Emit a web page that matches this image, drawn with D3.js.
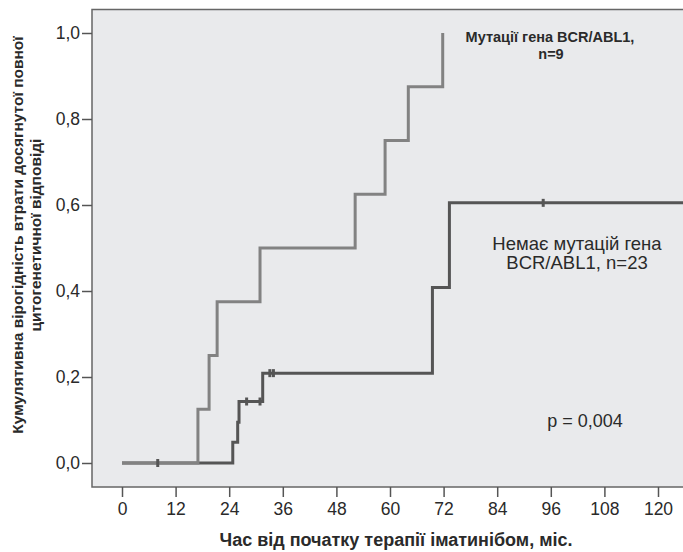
<!DOCTYPE html>
<html>
<head>
<meta charset="utf-8">
<script src="https://cdn.jsdelivr.net/npm/d3@7"></script>
<style>
  html, body { margin: 0; padding: 0; background: #fff; }
  svg { display: block; }
  text { font-family: "Liberation Sans", Arial, sans-serif; fill: #2a2a2a; }
</style>
</head>
<body>
<svg id="chart" width="683" height="552"></svg>
<script>
// ---- data ----
const xTicks = [0, 12, 24, 36, 48, 60, 72, 84, 96, 108, 120];
const yTicks = [0, 0.2, 0.4, 0.6, 0.8, 1.0];

// Mutation group (n=9): event times and cumulative probability after each step
const mutTimes  = [0, 17, 19.5, 21.3, 30.9, 52.2, 58.9, 64.1, 71.8];
const mutValues = [0, 0.125, 0.25, 0.375, 0.5, 0.625, 0.75, 0.875, 1.0];
const mutEnd = 71.8;

// No-mutation group (n=23)
const noTimes  = [0, 24.8, 25.9, 26.2, 31.5, 69.5, 73.3];
const noValues = [0, 0.048, 0.095, 0.143, 0.209, 0.408, 0.605];
const noEnd = 130;
const noCensorTimes  = [8, 27.9, 30.9, 33.1, 33.9, 94.3];
const noCensorValues = [0, 0.143, 0.143, 0.209, 0.209, 0.605];

// ---- layout ----
const svg = d3.select("#chart");
const x = d3.scaleLinear().domain([0, 120]).range([122, 658]);
const y = d3.scaleLinear().domain([0, 1]).range([463, 33]);
const plotLeft = 92, plotTop = 9.5, plotBottom = 487, plotRight = 700;

svg.append("rect")
  .attr("x", plotLeft).attr("y", plotTop)
  .attr("width", plotRight - plotLeft).attr("height", plotBottom - plotTop)
  .attr("fill", "#e9eaec").attr("stroke", "#666").attr("stroke-width", 1.5);

// axes
const xAxis = svg.append("g").attr("transform", `translate(0,${plotBottom})`)
  .call(d3.axisBottom(x).tickValues(xTicks).tickSize(10).tickPadding(6).tickFormat(d3.format("d")));
const yAxis = svg.append("g").attr("transform", `translate(${plotLeft},0)`)
  .call(d3.axisLeft(y).tickValues(yTicks).tickSize(10).tickPadding(2)
    .tickFormat(d => d3.format(".1f")(d).replace(".", ",")));
[xAxis, yAxis].forEach(g => {
  g.select(".domain").remove();
  g.selectAll(".tick line").attr("stroke", "#555").attr("stroke-width", 1.5);
  g.selectAll(".tick text").attr("font-size", 17.5).attr("fill", "#2a2a2a")
    .style("font-family", "'Liberation Sans', Arial, sans-serif");
});

// step line builder
function stepPoints(times, values, end) {
  const pts = [];
  for (let i = 0; i < times.length; i++) {
    if (i > 0) pts.push([times[i], values[i - 1]]);
    pts.push([times[i], values[i]]);
  }
  pts.push([end, values[values.length - 1]]);
  return pts;
}
const line = d3.line().x(d => x(d[0])).y(d => y(d[1]));

svg.append("path")
  .attr("d", line(stepPoints(noTimes, noValues, noEnd)))
  .attr("fill", "none").attr("stroke", "#555").attr("stroke-width", 3);

svg.append("path")
  .attr("d", line(stepPoints(mutTimes, mutValues, mutEnd)))
  .attr("fill", "none").attr("stroke", "#828282").attr("stroke-width", 3);

// censor marks
svg.selectAll(".censor").data(noCensorTimes).enter().append("line")
  .attr("x1", d => x(d)).attr("x2", d => x(d))
  .attr("y1", (d, i) => y(noCensorValues[i]) - 4)
  .attr("y2", (d, i) => y(noCensorValues[i]) + 4)
  .attr("stroke", "#555").attr("stroke-width", 3);

// clip right overflow
svg.append("rect").attr("x", 683).attr("y", 0).attr("width", 50).attr("height", 552).attr("fill", "#fff");

// labels
svg.append("text").attr("x", 396).attr("y", 546).attr("text-anchor", "middle")
  .attr("font-size", 18).attr("font-weight", "bold")
  .text("Час від початку терапії іматинібом, міс.");

const yl = svg.append("g").attr("transform", "translate(0,235) rotate(-90)");
yl.append("text").attr("x", 0).attr("y", 23).attr("text-anchor", "middle")
  .attr("font-size", 15.5).attr("font-weight", "bold")
  .text("Кумулятивна вірогідність втрати досягнутої повної");
yl.append("text").attr("x", 0).attr("y", 41).attr("text-anchor", "middle")
  .attr("font-size", 15.5).attr("font-weight", "bold")
  .text("цитогенетичної відповіді");

const a1 = svg.append("g");
a1.append("text").attr("x", 550).attr("y", 42).attr("text-anchor", "middle")
  .attr("font-size", 14.5).attr("font-weight", "bold").text("Мутації гена BCR/ABL1,");
a1.append("text").attr("x", 551).attr("y", 59).attr("text-anchor", "middle")
  .attr("font-size", 14.5).attr("font-weight", "bold").text("n=9");

svg.append("text").attr("x", 577).attr("y", 250).attr("text-anchor", "middle")
  .attr("font-size", 18.5).text("Немає мутацій гена");
svg.append("text").attr("x", 577).attr("y", 269).attr("text-anchor", "middle")
  .attr("font-size", 18.5).text("BCR/ABL1, n=23");

svg.append("text").attr("x", 585).attr("y", 427).attr("text-anchor", "middle")
  .attr("font-size", 18).text("p = 0,004");
</script>
</body>
</html>
